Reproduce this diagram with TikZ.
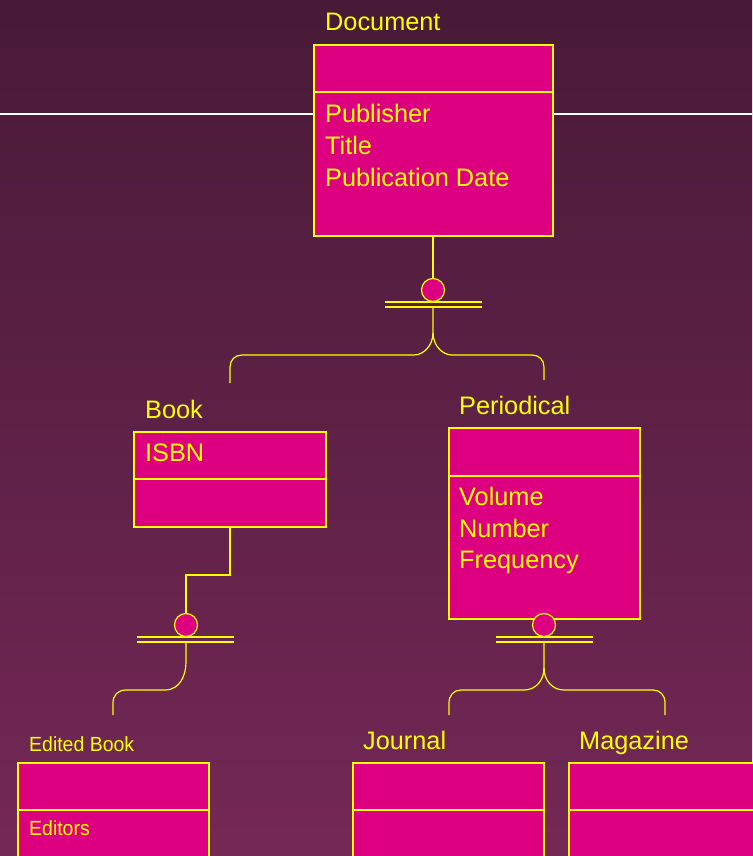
\documentclass[tikz,border=0pt]{standalone}
\usepackage{fontspec}
\setmainfont{Liberation Sans}
\definecolor{bgtop}{RGB}{72,26,55}
\definecolor{bgbot}{RGB}{116,40,86}
\definecolor{boxfill}{RGB}{220,0,128}
\definecolor{ylw}{RGB}{255,255,0}
\begin{document}
\begin{tikzpicture}[x=1pt,y=-1pt,
  compart/.style={draw=ylw,fill=boxfill,line width=2pt,anchor=north west,inner sep=0pt,outer sep=0pt},
  big/.style={text=ylw,font=\fontsize{25.3}{32}\selectfont,anchor=base west,inner sep=0pt},
  small/.style={text=ylw,font=\fontsize{20.5}{26}\selectfont,anchor=base west,inner sep=0pt,xscale=0.95},
  conn/.style={draw=ylw,line width=1.2pt},
  disc/.style={circle,draw=ylw,fill=boxfill,line width=1.2pt,minimum size=23pt,inner sep=0pt}]
\useasboundingbox (0,0) rectangle (752,856);
\shade[top color=bgtop,bottom color=bgbot] (0,0) rectangle (752,856);
\draw[white,line width=1.2pt] (0,114) -- (752,114);
% Document
\node[compart,minimum width=239pt,minimum height=47pt] (docT) at (314,45) {};
\node[compart,minimum width=239pt,minimum height=144pt] (docB) at (314,92) {};
\node[big] (docL) at (325,31) {Document};
\node[big] (docA1) at (325,122) {Publisher};
\node[big] (docA2) at (325,154) {Title};
\node[big] (docA3) at (325,186) {Publication Date};
% Book
\node[compart,minimum width=192pt,minimum height=47pt] (bookT) at (134,432) {};
\node[compart,minimum width=192pt,minimum height=48pt] (bookB) at (134,479) {};
\node[big] (bookL) at (145,418) {Book};
\node[big] (bookA1) at (145,461) {ISBN};
% Periodical
\node[compart,minimum width=191pt,minimum height=48pt] (perT) at (449,428) {};
\node[compart,minimum width=191pt,minimum height=143pt] (perB) at (449,476) {};
\node[big] (perL) at (459,414) {Periodical};
\node[big] (perA1) at (459,505) {Volume};
\node[big] (perA2) at (459,537) {Number};
\node[big] (perA3) at (459,568) {Frequency};
% Edited Book
\node[compart,minimum width=191pt,minimum height=47pt] (edT) at (18,763) {};
\node[compart,minimum width=191pt,minimum height=60pt] (edB) at (18,810) {};
\node[small] (edL) at (29,751) {Edited Book};
\node[small] (edA1) at (29,835) {Editors};
% Journal
\node[compart,minimum width=191pt,minimum height=47pt] (jT) at (353,763) {};
\node[compart,minimum width=191pt,minimum height=60pt] (jB) at (353,810) {};
\node[big] (jL) at (363,749) {Journal};
% Magazine
\node[compart,minimum width=200pt,minimum height=47pt] (mT) at (569,763) {};
\node[compart,minimum width=200pt,minimum height=60pt] (mB) at (569,810) {};
\node[big] (mL) at (579,749) {Magazine};
% ---- Document subtype connector
\coordinate (d0) at (docB.south -| 433,0);
\node[disc] (dc) at (433,290) {};
\coordinate (dl1a) at (385,302); \coordinate (dl1b) at (482,302);
\coordinate (dl2a) at (385,307); \coordinate (dl2b) at (482,307);
\draw[conn] (d0) -- (dc.north);
\draw[conn] (dl1a) -- (dl1b);
\draw[conn] (dl2a) -- (dl2b);
\coordinate (dj) at (433,307);
\coordinate (dlE) at (230,383);
\coordinate (drE) at (544,380);
\draw[conn] (dj) -- (433,333) .. controls (433,345) and (424,355) .. (414,355) -- (242,355)
  .. controls (235,355) and (230,360) .. (230,367) -- (dlE);
\draw[conn] (433,333) .. controls (433,345) and (442,355) .. (452,355) -- (532,355)
  .. controls (539,355) and (544,360) .. (544,367) -- (drE);
% ---- Book subtype connector
\node[disc] (bc) at (186,625) {};
\draw[conn] (bookB.south -| 230,0) -- (230,575) -- (186,575) -- (bc.north);
\draw[conn] (137,637) -- (234,637);
\draw[conn] (137,642) -- (234,642);
\coordinate (beE) at (113,715);
\draw[conn] (186,642) -- (186,662) .. controls (186,675) and (180,690) .. (165,690) -- (126,690)
  .. controls (118,690) and (113,695) .. (113,703) -- (beE);
% ---- Periodical subtype connector
\node[disc] (pc) at (544,625) {};
\draw[conn] (496,637) -- (593,637);
\draw[conn] (496,642) -- (593,642);
\coordinate (pj) at (544,642);
\coordinate (plE) at (449,715);
\coordinate (prE) at (665,715);
\draw[conn] (pj) -- (544,668) .. controls (544,680) and (536,690) .. (524,690) -- (461,690)
  .. controls (454,690) and (449,695) .. (449,703) -- (plE);
\draw[conn] (544,668) .. controls (544,680) and (552,690) .. (564,690) -- (653,690)
  .. controls (660,690) and (665,695) .. (665,703) -- (prE);
\end{tikzpicture}
\end{document}
